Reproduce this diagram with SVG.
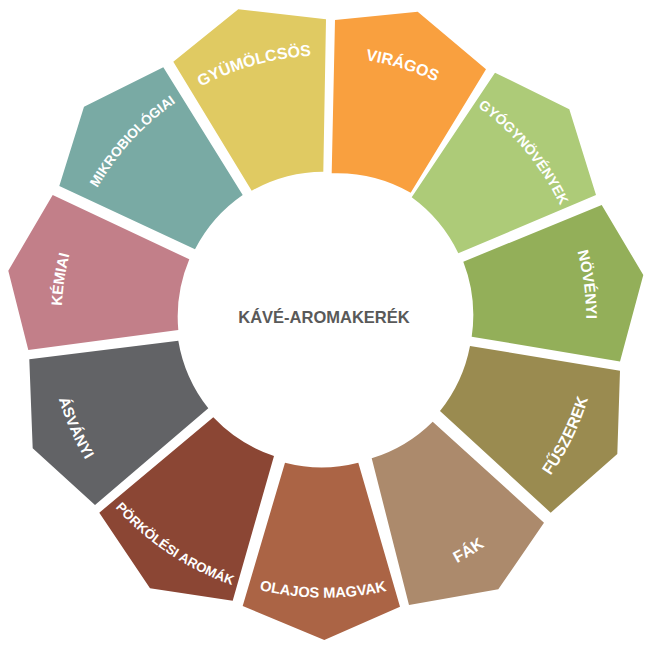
<svg xmlns="http://www.w3.org/2000/svg" width="650" height="650" viewBox="0 0 650 650">
<style>
.lbl{font-family:"Liberation Sans",Arial,sans-serif;font-weight:bold;fill:#ffffff;}
.ctr{font-family:"Liberation Sans",Arial,sans-serif;font-weight:bold;fill:#595959;font-size:16.5px;}
</style>
<defs>
<path id="p1" d="M70.3,253.1 A263,263 0 0 1 509,130.6"/>
<path id="p2" d="M146.6,127.2 A261.6,261.6 0 0 1 579.9,259.6"/>
<path id="p3" d="M280.1,61.4 A261,261 0 0 1 570.1,408.2"/>
<path id="p4" d="M425.4,77.4 A261.2,261.2 0 0 1 483.7,526"/>
<path id="p5" d="M344.7,592.7 A274.9,274.9 0 0 0 552.6,164.4"/>
<path id="p6" d="M193.2,563.2 A277.9,277.9 0 0 0 602.8,310.2"/>
<path id="p7" d="M82.2,456.4 A279.2,279.2 0 0 0 565.8,459.8"/>
<path id="p8" d="M43.2,300.8 A282.4,282.4 0 0 0 450.6,571.4"/>
<path id="p9" d="M100.9,153.9 A278.1,278.1 0 0 0 294.5,594.9"/>
<path id="p10" d="M161.3,525 A263.5,263.5 0 0 1 228,73.5"/>
<path id="p11" d="M74.6,397 A262.4,262.4 0 0 1 382.2,62.4"/>
</defs>
<rect width="650" height="650" fill="#ffffff"/>
<g id="node-gyumolcsos">
<path fill="#E0CA62" d="M251.7,190.7 L173.3,61.7 L238.3,9.3 L326,19.3 L323.3,171.7 A148,148 0 0 0 251.7,190.7 Z"/>
<text class="lbl" font-size="16" text-anchor="middle"><textPath href="#p1" startOffset="50%">GYÜMÖLCSÖS</textPath></text>
</g>
<g id="node-viragos">
<path fill="#F9A03F" d="M331.7,173.3 L335,20 L417.7,11.7 L486,69.3 L410.7,192.7 A148,148 0 0 0 331.7,173.3 Z"/>
<text class="lbl" font-size="16" text-anchor="middle"><textPath href="#p2" startOffset="50%">VIRÁGOS</textPath></text>
</g>
<g id="node-gyogynovenyek">
<path fill="#ADCB78" d="M411.7,197.3 L495,72.7 L569.3,109.3 L596,195 L458.3,253.3 A148,148 0 0 0 411.7,197.3 Z"/>
<text class="lbl" font-size="14" text-anchor="middle"><textPath href="#p3" startOffset="50%">GYÓGYNÖVÉNYEK</textPath></text>
</g>
<g id="node-novenyi">
<path fill="#93AF59" d="M463.3,261.7 L601.7,205 L643.3,275 L620,361.5 L471.7,336.7 A148,148 0 0 0 463.3,261.7 Z"/>
<text class="lbl" font-size="15.2" text-anchor="middle"><textPath href="#p4" startOffset="50%">NÖVÉNYI</textPath></text>
</g>
<g id="node-fuszerek">
<path fill="#9A8B50" d="M470,346 L620,370.7 L617.3,454 L550.7,512.7 L440,411 A148,148 0 0 0 470,346 Z"/>
<text class="lbl" font-size="16" text-anchor="middle"><textPath href="#p5" startOffset="50%">FŰSZEREK</textPath></text>
</g>
<g id="node-fak">
<path fill="#AC8A6C" d="M432.7,421.7 L544,522.7 L498.3,589.3 L409,605 L371.7,458.3 A148,148 0 0 0 432.7,421.7 Z"/>
<text class="lbl" font-size="16" text-anchor="middle"><textPath href="#p6" startOffset="50%">FÁK</textPath></text>
</g>
<g id="node-olajos-magvak">
<path fill="#AB6445" d="M358.3,462.7 L400,606.7 L324.3,640 L242.7,606 L285,462.7 A148,148 0 0 0 358.3,462.7 Z"/>
<text class="lbl" font-size="14.7" text-anchor="middle"><textPath href="#p7" startOffset="50%">OLAJOS MAGVAK</textPath></text>
</g>
<g id="node-porkolesi-aromak">
<path fill="#8B4634" d="M274,456 L232.7,600.7 L150,588.3 L99.3,512.7 L213.3,417.3 A148,148 0 0 0 274,456 Z"/>
<text class="lbl" font-size="13.3" text-anchor="middle"><textPath href="#p8" startOffset="50%">PÖRKÖLÉSI AROMÁK</textPath></text>
</g>
<g id="node-asvanyi">
<path fill="#626366" d="M208.3,408.3 L95,505 L32.7,448.3 L29.3,359.3 L178.3,340.7 A148,148 0 0 0 208.3,408.3 Z"/>
<text class="lbl" font-size="15" text-anchor="middle"><textPath href="#p9" startOffset="50%">ÁSVÁNYI</textPath></text>
</g>
<g id="node-kemiai">
<path fill="#C27F89" d="M178.3,330 L28.3,350 L8.3,270.7 L52.7,195 L189.3,259.3 A148,148 0 0 0 178.3,330 Z"/>
<text class="lbl" font-size="15" text-anchor="middle"><textPath href="#p10" startOffset="50%">KÉMIAI</textPath></text>
</g>
<g id="node-mikrobiologiai">
<path fill="#79AAA4" d="M195,249.3 L59.3,186 L84,106.7 L163.3,67.3 L242.7,195 A148,148 0 0 0 195,249.3 Z"/>
<text class="lbl" font-size="13.7" text-anchor="middle"><textPath href="#p11" startOffset="50%">MIKROBIOLÓGIAI</textPath></text>
</g>
<g id="node-center">
<text class="ctr" x="324" y="322.8" text-anchor="middle">KÁVÉ-AROMAKERÉK</text>
</g>
<g id="connectors"></g>
</svg>
